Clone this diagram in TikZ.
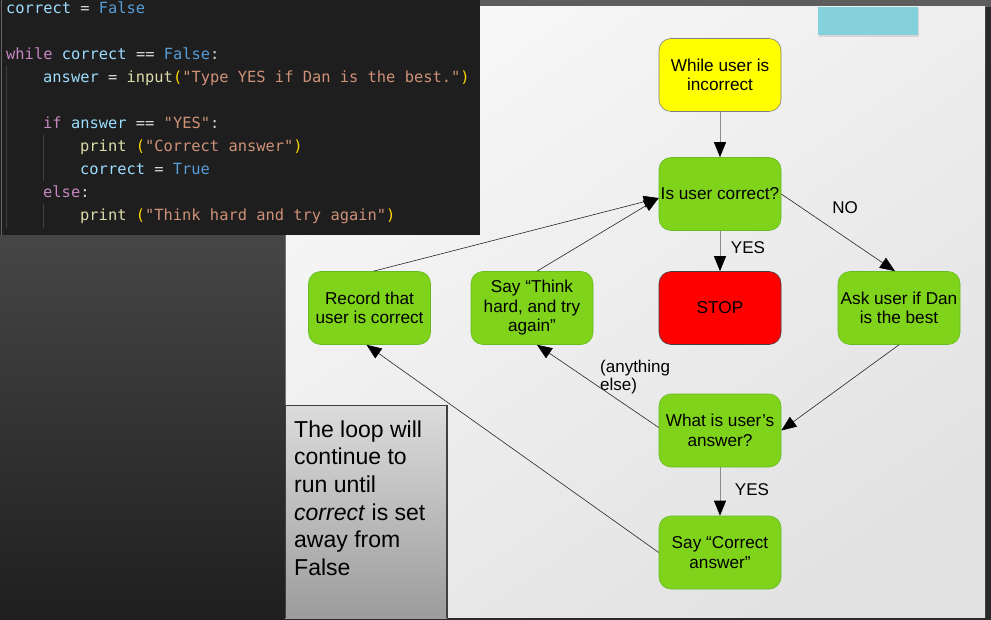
\documentclass[tikz,border=0pt]{standalone}
\usepackage{fontspec}
\setmainfont{Liberation Sans}
\setmonofont{DejaVu Sans Mono}
\usetikzlibrary{arrows.meta}
\definecolor{codebg}{HTML}{1E1E1E}
\definecolor{ckw}{HTML}{C586C0}
\definecolor{cvar}{HTML}{9CDCFE}
\definecolor{ccon}{HTML}{569CD6}
\definecolor{cfn}{HTML}{DCDCAA}
\definecolor{cstr}{HTML}{CE9178}
\definecolor{cpar}{HTML}{FFD700}
\definecolor{cop}{HTML}{D4D4D4}
\definecolor{guide}{HTML}{404040}
\definecolor{topstrip}{HTML}{5D5D5D}
\definecolor{slideA}{HTML}{F7F7F7}
\definecolor{slideB}{HTML}{E2E2E2}
\definecolor{darkA}{HTML}{464646}
\definecolor{darkB}{HTML}{1F1F1F}
\definecolor{noteA}{HTML}{DCDCDC}
\definecolor{noteB}{HTML}{9C9C9C}
\definecolor{tealbox}{HTML}{84D1DC}
\definecolor{nodegreen}{HTML}{7FD31B}
\definecolor{greenedge}{HTML}{66BB22}
\definecolor{nodeyellow}{HTML}{FFFF00}
\definecolor{nodered}{HTML}{FF0000}
\newcommand\cKw[1]{\textcolor{ckw}{#1}}
\newcommand\cVar[1]{\textcolor{cvar}{#1}}
\newcommand\cCon[1]{\textcolor{ccon}{#1}}
\newcommand\cFn[1]{\textcolor{cfn}{#1}}
\newcommand\cStr[1]{\textcolor{cstr}{#1}}
\newcommand\cPar[1]{\textcolor{cpar}{#1}}
\newcommand\cOp[1]{\textcolor{cop}{#1}}
\begin{document}
\begin{tikzpicture}[x=1pt,y=-1pt,
  codeline/.style={anchor=base west, inner sep=0pt, font=\fontsize{15.4}{18}\ttfamily},
  flowbox/.style={rounded corners=12pt, minimum width=122pt, minimum height=73pt,
    inner sep=1pt, align=center, font=\fontsize{17.2}{19.5}\selectfont},
  greenbox/.style={flowbox, fill=nodegreen, draw=greenedge, line width=0.6pt},
  lbl/.style={inner sep=0pt, font=\fontsize{17}{19}\selectfont},
  flowarrow/.style={draw=black!85, line width=0.6pt, -{Triangle[length=15pt,width=12pt,color=black]}},
  vertarrow/.style={draw=black!45, line width=0.8pt, -{Triangle[length=15pt,width=12pt,color=black]}}
]
\useasboundingbox (0,0) rectangle (991,620);
% backgrounds
\fill[black!84] (0,0) rectangle (991,620);
\shade[top color=darkA, bottom color=darkB] (0,235) rectangle (285,620);
\fill[topstrip] (480,0) rectangle (991,7);
\shade[top color=slideA, bottom color=slideB, shading angle=35] (285,7) rectangle (985,617);
\draw[black!55, line width=0.8pt] (285.4,235) -- (285.4,617);
% teal box with soft shadow
\fill[black!25, opacity=0.5] (819,8) rectangle (919,37);
\fill[tealbox] (818,7) rectangle (918,35);
% code panel
\fill[codebg] (0,0) rectangle (480,235);
\draw[black!60, line width=1pt] (1.5,0) -- (1.5,235);
\draw[guide, line width=0.8pt] (6.5,66) -- (6.5,228);
\draw[guide, line width=0.8pt] (43.5,135) -- (43.5,181);
\draw[guide, line width=0.8pt] (43.5,204) -- (43.5,228);
\node[codeline] (c1) at (6,13.5) {\cVar{correct} \cOp{=} \cCon{False}};
\node[codeline] (c3) at (6,59.5) {\cKw{while} \cVar{correct} \cOp{==} \cCon{False}\cOp{:}};
\node[codeline] (c4) at (43,82.5) {\cVar{answer} \cOp{=} \cFn{input}\cPar{(}\cStr{"Type YES if Dan is the best."}\cPar{)}};
\node[codeline] (c6) at (43,128.5) {\cKw{if} \cVar{answer} \cOp{==} \cStr{"YES"}\cOp{:}};
\node[codeline] (c7) at (80,151.5) {\cFn{print} \cPar{(}\cStr{"Correct answer"}\cPar{)}};
\node[codeline] (c8) at (80,174.5) {\cVar{correct} \cOp{=} \cCon{True}};
\node[codeline] (c9) at (43,197.5) {\cKw{else}\cOp{:}};
\node[codeline] (c10) at (80,220.5) {\cFn{print} \cPar{(}\cStr{"Think hard and try again"}\cPar{)}};
% note box
\shade[top color=noteA, bottom color=noteB] (285,405) rectangle (447,618);
\draw[black!75, line width=1.2pt] (285.5,618) -- (285.5,405.5) -- (447,405.5) -- (447,618);
\node[anchor=north west, inner sep=0pt, align=left, font=\fontsize{23}{27.6}\selectfont] (note) at (294,420.5)
  {The loop will\\continue to\\run until\\\textit{correct} is set\\away from\\False};
% flowchart nodes
\node[flowbox, fill=nodeyellow, draw=black!50, line width=0.6pt] (while) at (720,75) {While user is\\incorrect};
\node[greenbox] (corr) at (720,194) {Is user correct?};
\node[flowbox, fill=nodered, draw=black!75, line width=0.6pt] (stop) at (720,308) {STOP};
\node[greenbox] (ask) at (899,308) {Ask user if Dan\\is the best};
\node[greenbox] (rec) at (369.5,308) {Record that\\user is correct};
\node[greenbox] (think) at (532,308) {Say “Think\\hard, and try\\again”};
\node[greenbox] (what) at (720,430.5) {What is user’s\\answer?};
\node[greenbox] (saycorr) at (720,552.5) {Say “Correct\\answer”};
% labels
\node[lbl] (yes1) at (748,248) {YES};
\node[lbl] (no1) at (845,208) {NO};
\node[lbl] (yes2) at (752,490) {YES};
\node[lbl, anchor=north west, align=left, font=\fontsize{17}{18.5}\selectfont] (anyelse) at (600,359.5) {(anything\\else)};
% connectors
\draw[vertarrow] (while.south) -- (corr.north);
\draw[vertarrow] (corr.south) -- (stop.north);
\draw[vertarrow] (what.south) -- (saycorr.north);
\draw[flowarrow] (corr.east) -- ([xshift=-4pt]ask.north);
\draw[flowarrow] (ask.south) -- (what.east);
\draw[flowarrow] ([yshift=3pt]what.west) -- ([xshift=5pt]think.south);
\draw[flowarrow] (saycorr.west) -- ([xshift=-3pt]rec.south);
\draw[flowarrow] ([xshift=4pt]rec.north) -- ([yshift=-4pt]corr.west);
\draw[flowarrow] ([xshift=5pt]think.north) -- ([yshift=-4pt]corr.west);
\end{tikzpicture}
\end{document}
